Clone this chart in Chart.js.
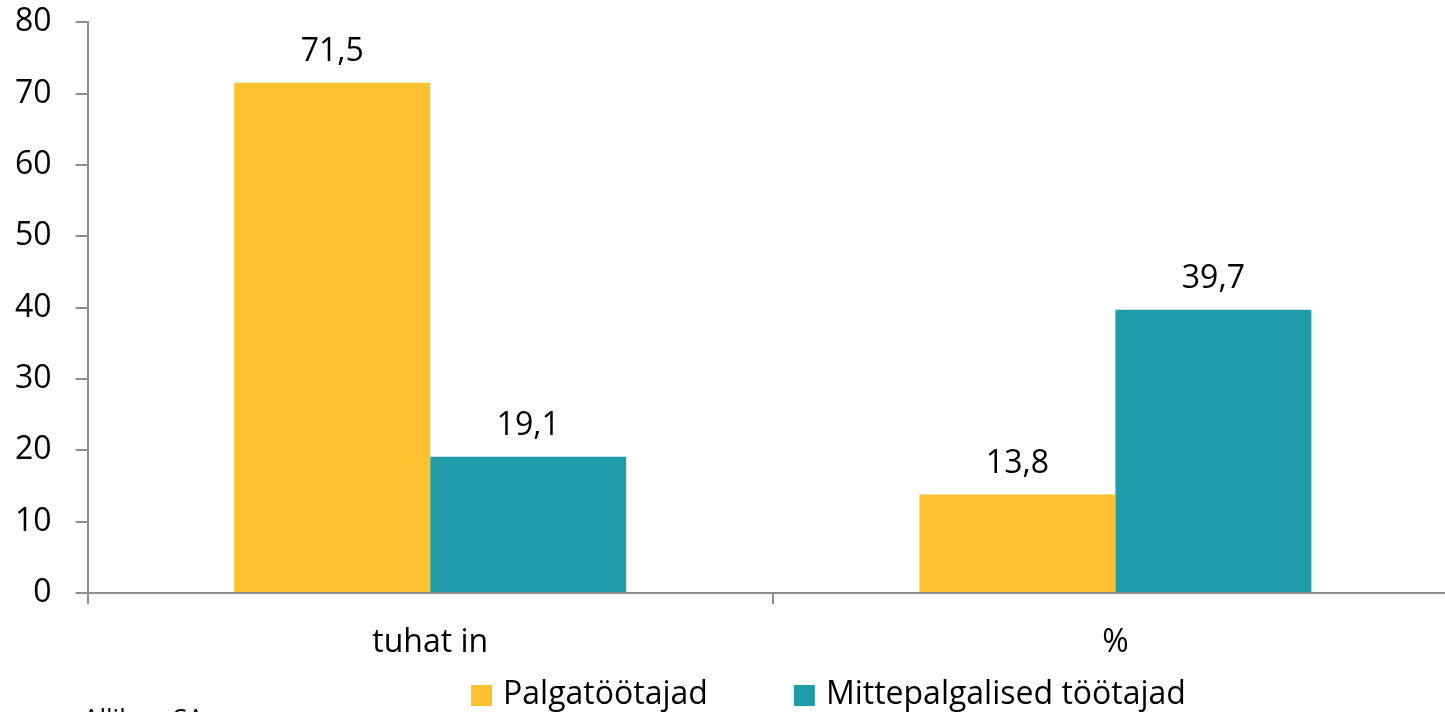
<!DOCTYPE html>
<html>
<head>
<meta charset="utf-8">
<script src="https://cdn.jsdelivr.net/npm/chart.js@4"></script>
<style>
  html, body { margin: 0; padding: 0; background: #fff; overflow: hidden; }
  #wrap { position: relative; width: 1445px; height: 712px; overflow: hidden; }
  /* canvas is a bit bigger than the window so the plot area lands where the reference has it */
  #chart-box { position: absolute; left: -9px; top: -21px; width: 1467px; height: 760px; }
  #source { position: absolute; left: 83px; top: 699px; font: 26px 'Open Sans', sans-serif; color: #000; white-space: nowrap; }
</style>
</head>
<body>
<div id="wrap">
  <div id="chart-box"><canvas id="chart" width="1467" height="760"></canvas></div>
  <div id="source">Allikas: SA</div>
</div>
<script>
// values
const categories = ["tuhat in", "%"];
const palgatootajad = [71.5, 13.8];
const mittepalgalised = [19.1, 39.7];
const seriesNames = ["Palgatöötajad", "Mittepalgalised töötajad"];
const yMin = 0, yMax = 80, yStep = 10;

const FONT = "'Open Sans', sans-serif";
const axisColor = "#8c8c8c";

// value labels above each bar (comma as decimal mark)
const valueLabels = {
  id: "valueLabels",
  afterDatasetsDraw(chart) {
    const ctx = chart.ctx;
    ctx.save();
    ctx.font = "32px " + FONT;
    ctx.fillStyle = "#000";
    ctx.textAlign = "center";
    ctx.textBaseline = "alphabetic";
    chart.data.datasets.forEach((ds, i) => {
      chart.getDatasetMeta(i).data.forEach((bar, j) => {
        const txt = ds.data[j].toFixed(1).replace(".", ",");
        ctx.fillText(txt, bar.x, bar.y - 22);
      });
    });
    ctx.restore();
  }
};

// legend drawn by hand so the spacing matches the reference
const bottomLegend = {
  id: "bottomLegend",
  afterDraw(chart) {
    const ctx = chart.ctx;
    const area = chart.chartArea;
    const box = 21, gap = 11, spacing = 86;
    ctx.save();
    ctx.font = "32px " + FONT;
    ctx.textBaseline = "alphabetic";
    ctx.textAlign = "left";
    const items = chart.data.datasets.map(ds => ({
      text: ds.label,
      color: ds.backgroundColor,
      w: box + gap + ctx.measureText(ds.label).width
    }));
    const total = items.reduce((s, it) => s + it.w, 0) + spacing * (items.length - 1);
    let x = 837.5 - total / 2;   // centre of legend row, canvas coords
    const boxTop = area.bottom + 92;
    const baseY = area.bottom + 111;
    items.forEach(it => {
      ctx.fillStyle = it.color;
      ctx.fillRect(x, boxTop, box, box);
      ctx.fillStyle = "#000";
      ctx.fillText(it.text, x + box + gap, baseY);
      x += it.w + spacing;
    });
    ctx.restore();
  }
};

const ctx = document.getElementById("chart").getContext("2d");
new Chart(ctx, {
  type: "bar",
  data: {
    labels: categories,
    datasets: [
      {
        label: seriesNames[0],
        data: palgatootajad,
        backgroundColor: "#FCC12E",
        barPercentage: 1,
        categoryPercentage: 0.572
      },
      {
        label: seriesNames[1],
        data: mittepalgalised,
        backgroundColor: "#209BA8",
        barPercentage: 1,
        categoryPercentage: 0.572
      }
    ]
  },
  options: {
    responsive: false,
    animation: false,
    layout: { padding: { left: 0, right: 0, top: 0, bottom: 69 } },
    plugins: {
      legend: { display: false },
      tooltip: { enabled: false }
    },
    scales: {
      x: {
        grid: {
          drawOnChartArea: false,
          drawTicks: true,
          tickLength: 11,
          color: axisColor,
          lineWidth: 2
        },
        border: { color: axisColor, width: 2 },
        ticks: {
          color: "#000",
          padding: 20,
          font: { family: FONT, size: 32 }
        },
        afterFit(scale) { scale.height = 77; }
      },
      y: {
        min: yMin,
        max: yMax,
        grid: {
          drawOnChartArea: false,
          drawTicks: true,
          tickLength: 12,
          color: axisColor,
          lineWidth: 2
        },
        border: { color: axisColor, width: 2 },
        ticks: {
          stepSize: yStep,
          color: "#000",
          padding: 24,
          font: { family: FONT, size: 32 }
        }
      }
    }
  },
  plugins: [valueLabels, bottomLegend]
});
</script>
</body>
</html>
